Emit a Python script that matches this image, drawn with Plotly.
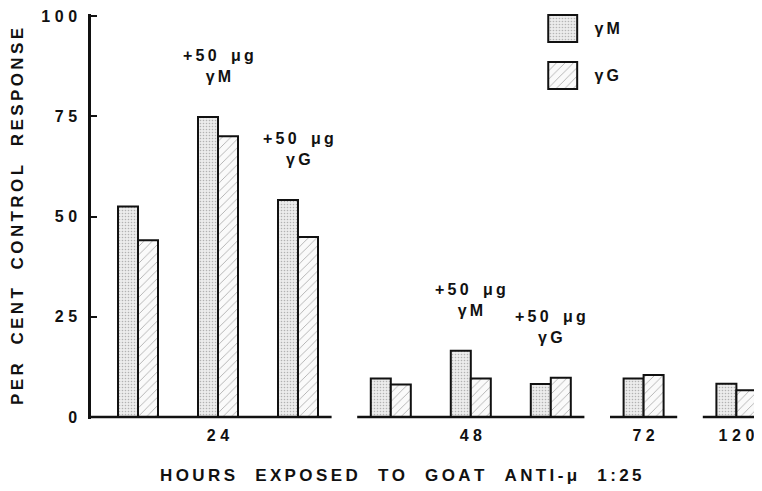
"""
plot.py
=======
Per cent control response after exposure to goat anti-mu (1:25), with and
without 50 ug of added gamma-M or gamma-G. Paired bars per condition,
grouped by hours of exposure.
"""

import numpy as np
import plotly.graph_objects as go

# --- data ------------------------------------------------------------------
HORAS = ["24", "48", "72", "120"]
GRUPO_PAR = [0, 0, 0, 1, 1, 1, 2, 3]          # which hour each pair belongs to
NOTA_PAR = ["", "γM", "γG", "", "γM", "γG", "", ""]
DOSIS = "+50 μg"
GAMMA_M = [52.5, 74.8, 54.1, 9.6, 16.5, 8.2, 9.6, 8.3]
GAMMA_G = [44.1, 70.0, 44.9, 8.1, 9.6, 9.8, 10.5, 6.7]
Y_TICKS = [0, 25, 50, 75, 100]
SERIES = ["γM", "γG"]

# --- styling ---------------------------------------------------------------
NEGRO = "#111111"
FUENTE = "Liberation Sans, Arial, sans-serif"
SALTO_GRUPO = 0.16      # extra room between hour groups (in pair slots)
ANCHO_BARRA = 0.25
RANGO_X = [-0.5875, 7.8]

PATRON = {
    "γM": dict(shape=".", fgcolor="#777777", bgcolor="#ececec", size=3, solidity=0.22),
    "γG": dict(shape="/", fgcolor="#666666", bgcolor="#fafafa", size=6, solidity=0.15),
}


def espaciar(texto: str, hueco: str = "\u2002", letra: str = "\u2009") -> str:
    """Wide lettering: thin space between letters, wider gap between words."""
    return (letra + hueco + letra).join(letra.join(p) for p in texto.split(" "))


def fuente(size: int) -> dict:
    return dict(family=FUENTE, size=size, color=NEGRO, weight="bold")


pos = np.arange(len(GAMMA_M)) + SALTO_GRUPO * np.array(GRUPO_PAR)
grupos = np.array(GRUPO_PAR)

fig = go.Figure()

for nombre, valores, offset in [("γM", GAMMA_M, -ANCHO_BARRA), ("γG", GAMMA_G, 0.0)]:
    fig.add_trace(
        go.Bar(
            x=pos, y=valores, name=nombre, width=ANCHO_BARRA, offset=offset,
            marker=dict(color="white", pattern=PATRON[nombre],
                        line=dict(color=NEGRO, width=2)),
            showlegend=False,
        )
    )

# broken baseline: one segment per hour group
for g in range(len(HORAS)):
    pts = pos[grupos == g]
    x0 = RANGO_X[0] if g == 0 else pts.min() - 0.42
    fig.add_trace(
        go.Scatter(
            x=[x0, pts.max() + 0.42], y=[0, 0], mode="lines",
            line=dict(color=NEGRO, width=2.5), showlegend=False, hoverinfo="skip",
        )
    )

# legend swatches drawn as bars on a small side axis
for nombre in SERIES:
    fig.add_trace(
        go.Bar(
            x=[1], y=[nombre], orientation="h", width=0.574,
            marker=dict(color="white", pattern=PATRON[nombre],
                        line=dict(color=NEGRO, width=2)),
            xaxis="x2", yaxis="y2", showlegend=False, hoverinfo="skip",
        )
    )

for i, nota in enumerate(NOTA_PAR):
    if not nota:
        continue
    fig.add_annotation(
        x=pos[i], y=max(GAMMA_M[i], GAMMA_G[i]),
        text=espaciar(DOSIS) + "<br>" + espaciar(nota),
        showarrow=False, yanchor="bottom", yshift=30, font=fuente(16),
    )

fig.add_annotation(
    xref="paper", yref="paper", x=0.462, y=-0.14, yanchor="middle",
    text=espaciar("HOURS EXPOSED TO GOAT ANTI-μ 1:25", "\u2002\u2009\u200a"),
    showarrow=False, font=fuente(17),
)

centros = [pos[grupos == g].mean() for g in range(len(HORAS))]
digitos = "\u2009\u200a"

# the page body adds 8 px around the figure, so the figure is 8 px smaller
fig.update_layout(
    width=754, height=483,
    margin=dict(l=83, r=0, t=6, b=72),
    template="plotly_white",
    plot_bgcolor="white", paper_bgcolor="white",
    barmode="overlay",
    showlegend=False,
    font=fuente(16),
    xaxis=dict(
        range=RANGO_X, showline=False, showgrid=False, zeroline=False,
        tickvals=centros, ticktext=[espaciar(h, letra=digitos) for h in HORAS],
        ticks="", ticklabelstandoff=5, tickfont=fuente(16), automargin=False,
        ticklabeloverflow="allow",
    ),
    yaxis=dict(
        range=[-0.5, 100.5], showline=True, linecolor=NEGRO, linewidth=2.5,
        showgrid=False, zeroline=False, automargin=False,
        ticks="inside", ticklen=6, tickwidth=2, tickcolor=NEGRO,
        tickvals=Y_TICKS,
        ticktext=[espaciar(str(v), letra=digitos) for v in Y_TICKS],
        tickfont=fuente(16), ticklabelstandoff=8, ticklabeloverflow="allow",
        title=dict(text=espaciar("PER CENT CONTROL RESPONSE", "\u2002\u2009"),
                   font=fuente(17), standoff=16),
    ),
    xaxis2=dict(
        domain=[0.678, 0.728], anchor="y2", range=[-0.08, 1.08],
        visible=False, automargin=False,
    ),
    yaxis2=dict(
        domain=[0.8, 1.0], anchor="x2", side="right", automargin=False,
        type="category", categoryorder="array", categoryarray=["γG", "γM"],
        range=[-0.414, 1.309], showline=False, showgrid=False, zeroline=False,
        ticks="", ticktext=[espaciar(s) for s in ["γG", "γM"]],
        tickvals=["γG", "γM"], tickfont=fuente(16), ticklabelstandoff=14,
    ),
)

fig.write_html("out.html")
